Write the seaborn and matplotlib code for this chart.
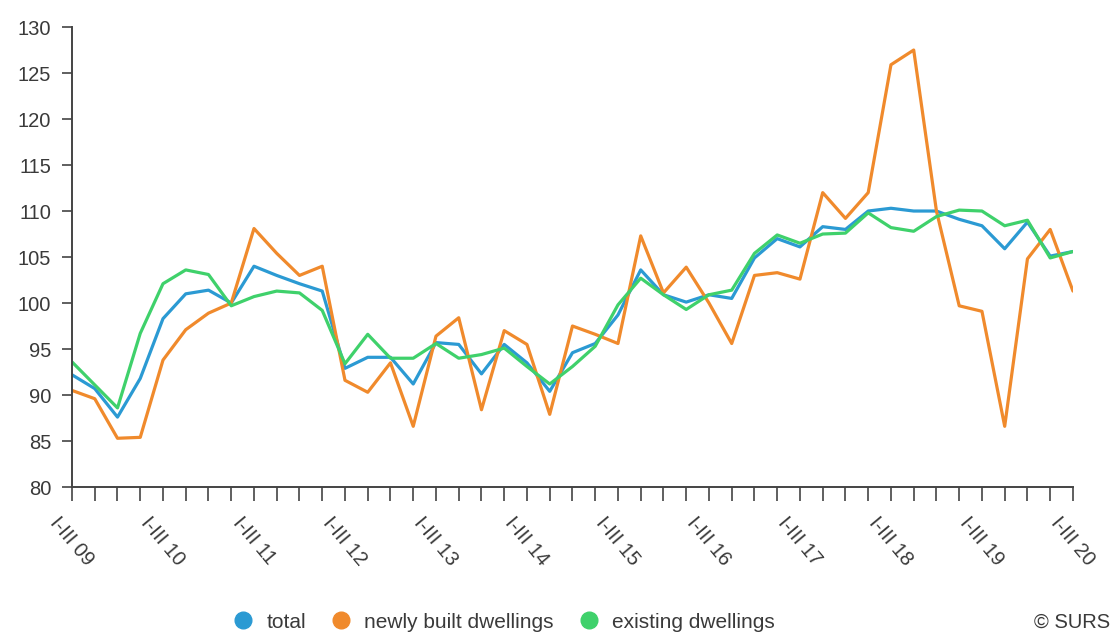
import matplotlib
matplotlib.use("Agg")
import matplotlib.pyplot as plt
import seaborn as sns
import pandas as pd
import numpy as np

series_names = ["total", "newly built dwellings", "existing dwellings"]

total = [92.2, 90.7, 87.6, 91.8, 98.3, 101.0, 101.4, 100.0, 104.0, 103.0,
         102.1, 101.3, 92.9, 94.1, 94.1, 91.2, 95.7, 95.5, 92.3, 95.5,
         93.5, 90.4, 94.6, 95.6, 98.7, 103.6, 100.9, 100.1, 100.9, 100.5,
         104.9, 107.0, 106.1, 108.3, 108.0, 110.0, 110.3, 110.0, 110.0, 109.1,
         108.4, 105.9, 108.8, 105.1, 105.6]

newly_built = [90.5, 89.6, 85.3, 85.4, 93.8, 97.1, 98.9, 100.0, 108.1, 105.4,
               103.0, 104.0, 91.6, 90.3, 93.5, 86.6, 96.4, 98.4, 88.4, 97.0,
               95.5, 87.9, 97.5, 96.6, 95.6, 107.3, 101.1, 103.9, 100.0, 95.6,
               103.0, 103.3, 102.6, 112.0, 109.2, 112.0, 125.9, 127.5, 110.0, 99.7,
               99.1, 86.6, 104.8, 108.0, 101.3]

existing = [93.6, 91.1, 88.6, 96.7, 102.1, 103.6, 103.1, 99.7, 100.7, 101.3,
            101.1, 99.2, 93.4, 96.6, 94.0, 94.0, 95.6, 94.0, 94.4, 95.1,
            93.1, 91.2, 93.1, 95.3, 99.8, 102.7, 100.9, 99.3, 100.9, 101.4,
            105.4, 107.4, 106.5, 107.5, 107.6, 109.8, 108.2, 107.8, 109.4, 110.1,
            110.0, 108.4, 109.0, 104.9, 105.6]

year_labels = ["I-III 09", "I-III 10", "I-III 11", "I-III 12", "I-III 13", "I-III 14",
               "I-III 15", "I-III 16", "I-III 17", "I-III 18", "I-III 19", "I-III 20"]

colors = ["#2b9ad3", "#f08a2c", "#3fd16b"]

n = len(total)
quarter = list(range(n))
df = pd.DataFrame({
    "quarter": quarter * 3,
    "value": total + newly_built + existing,
    "series": [series_names[0]] * n + [series_names[1]] * n + [series_names[2]] * n,
})

sns.set_theme(style="white")
plt.rcParams["font.family"] = ["Liberation Sans", "DejaVu Sans"]

fig = plt.figure(figsize=(11.18, 6.33), dpi=100)
ax = fig.add_axes([0.0644, 0.2306, 0.8953, 0.7267])

sns.lineplot(data=df, x="quarter", y="value", hue="series", hue_order=series_names,
             palette=colors, linewidth=2.3, ax=ax, legend=False)

ax.set_xlim(0, n - 1)
ax.set_ylim(80, 130)
ax.set_yticks(range(80, 131, 5))
ax.set_xticks(range(0, n, 4))
ax.set_xticklabels(year_labels)
ax.set_xticks(quarter, minor=True)
ax.set_xlabel("")
ax.set_ylabel("")

txt = "#3a3a3a"
for s in ["top", "right"]:
    ax.spines[s].set_visible(False)
for s in ["left", "bottom"]:
    ax.spines[s].set_color("#444444")
    ax.spines[s].set_linewidth(1.4)

ax.tick_params(axis="y", which="major", left=True, length=7, width=1.2, color="#444444",
               labelsize=14.5, labelcolor=txt, pad=8)
ax.tick_params(axis="x", which="both", bottom=True, length=10, width=1.2, color="#444444")
ax.tick_params(axis="x", which="major", labelsize=14.5, labelcolor=txt,
               labelrotation=-50, pad=9)
for lab in ax.get_xticklabels():
    lab.set_ha("center")

handles = [plt.Line2D([], [], marker="o", linestyle="", markersize=12,
                      markerfacecolor=c, markeredgecolor=c) for c in colors]
leg = fig.legend(handles, series_names, loc="center", bbox_to_anchor=(0.446, 0.017),
                 ncol=3, frameon=False, fontsize=15, labelcolor=txt, handletextpad=0.1,
                 columnspacing=0.7, borderaxespad=0)

fig.text(0.993, 0.017, "© SURS", ha="right", va="center", fontsize=14.5, color=txt)

fig.savefig("out.png", dpi=100)
